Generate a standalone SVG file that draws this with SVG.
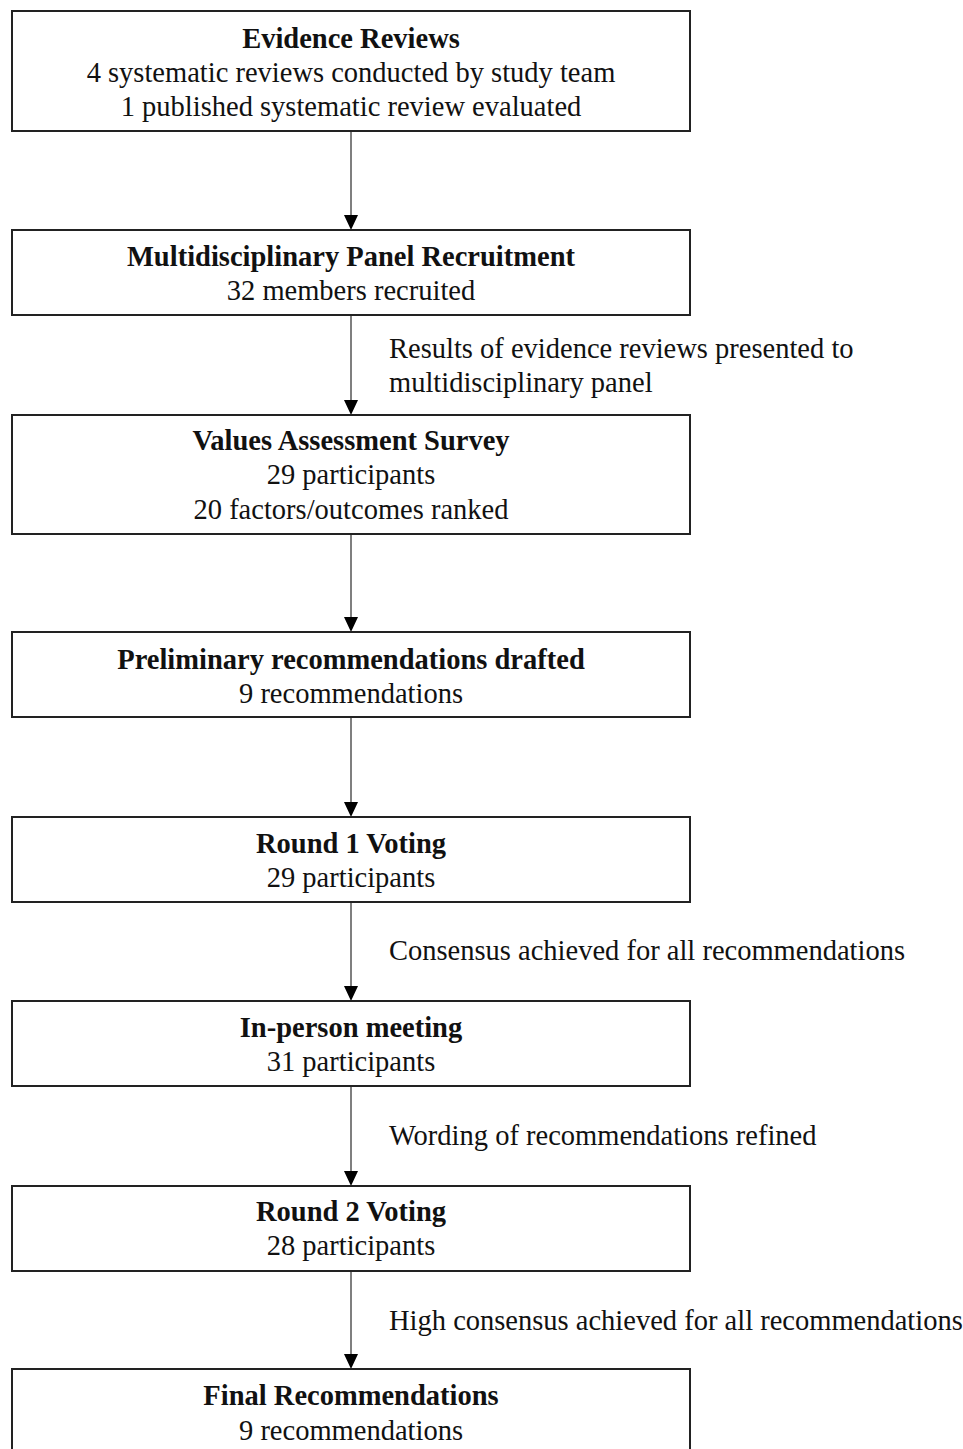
<svg xmlns="http://www.w3.org/2000/svg" width="963" height="1449" viewBox="0 0 963 1449">
<style>
.box{fill:#fff;stroke:#222;stroke-width:2}
text{font-family:"Liberation Serif","Times New Roman",serif;font-size:28.5px;fill:#111}
.t{font-weight:bold;text-anchor:middle}
.s{text-anchor:middle}
.c{stroke:#555;stroke-width:1.5;fill:none}
</style>
<rect width="963" height="1449" fill="#fff"/>
<g id="connectors">
<line class="c" x1="351" y1="131" x2="351" y2="216"/><path d="M344,215 L358,215 L351,230 Z"/>
<line class="c" x1="351" y1="315" x2="351" y2="401"/><path d="M344,400 L358,400 L351,415 Z"/>
<line class="c" x1="351" y1="534" x2="351" y2="618"/><path d="M344,617 L358,617 L351,632 Z"/>
<line class="c" x1="351" y1="717" x2="351" y2="803"/><path d="M344,802 L358,802 L351,817 Z"/>
<line class="c" x1="351" y1="902" x2="351" y2="987"/><path d="M344,986 L358,986 L351,1001 Z"/>
<line class="c" x1="351" y1="1086" x2="351" y2="1172"/><path d="M344,1171 L358,1171 L351,1186 Z"/>
<line class="c" x1="351" y1="1271" x2="351" y2="1355"/><path d="M344,1354 L358,1354 L351,1369 Z"/>
<text x="389" y="358">Results of evidence reviews presented to</text>
<text x="389" y="392">multidisciplinary panel</text>
<text x="389" y="960">Consensus achieved for all recommendations</text>
<text x="389" y="1145">Wording of recommendations refined</text>
<text x="389" y="1330">High consensus achieved for all recommendations</text>
</g>
<g id="n1"><rect class="box" x="12" y="11" width="678" height="120"/>
<text class="t" x="351" y="48">Evidence Reviews</text>
<text class="s" x="351" y="82">4 systematic reviews conducted by study team</text>
<text class="s" x="351" y="116">1 published systematic review evaluated</text></g>
<g id="n2"><rect class="box" x="12" y="230" width="678" height="85"/>
<text class="t" x="351" y="266">Multidisciplinary Panel Recruitment</text>
<text class="s" x="351" y="300">32 members recruited</text></g>
<g id="n3"><rect class="box" x="12" y="415" width="678" height="119"/>
<text class="t" x="351" y="450">Values Assessment Survey</text>
<text class="s" x="351" y="484">29 participants</text>
<text class="s" x="351" y="519">20 factors/outcomes ranked</text></g>
<g id="n4"><rect class="box" x="12" y="632" width="678" height="85"/>
<text class="t" x="351" y="669">Preliminary recommendations drafted</text>
<text class="s" x="351" y="703">9 recommendations</text></g>
<g id="n5"><rect class="box" x="12" y="817" width="678" height="85"/>
<text class="t" x="351" y="853">Round 1 Voting</text>
<text class="s" x="351" y="887">29 participants</text></g>
<g id="n6"><rect class="box" x="12" y="1001" width="678" height="85"/>
<text class="t" x="351" y="1037">In-person meeting</text>
<text class="s" x="351" y="1071">31 participants</text></g>
<g id="n7"><rect class="box" x="12" y="1186" width="678" height="85"/>
<text class="t" x="351" y="1221">Round 2 Voting</text>
<text class="s" x="351" y="1255">28 participants</text></g>
<g id="n8"><rect class="box" x="12" y="1369" width="678" height="90"/>
<text class="t" x="351" y="1405">Final Recommendations</text>
<text class="s" x="351" y="1440">9 recommendations</text></g>
</svg>
